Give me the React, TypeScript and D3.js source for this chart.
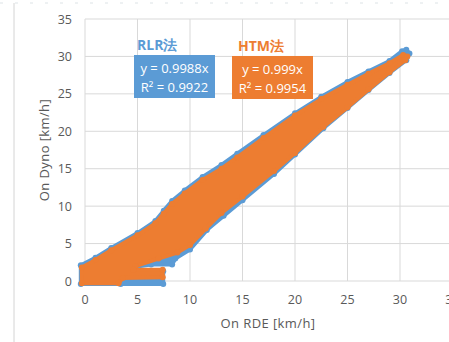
import * as d3 from "d3";

const xTicks = [0, 5, 10, 15, 20, 25, 30, 35];
const yTicks = [0, 5, 10, 15, 20, 25, 30, 35];

// outline of the RLR point cloud (On RDE, On Dyno)
const rlrCloud: [number, number][] = [
  [-0.4, -0.4], [-0.4, 2.1], [1, 3.1], [2.5, 4.4], [5, 6.4], [6.7, 8.0], [7.5, 9.4], [8.3, 10.7],
  [9.5, 12.1], [11.2, 13.9], [13, 15.5], [14.5, 17.0], [17, 19.5], [20, 22.4], [22.5, 24.6],
  [25, 26.6], [27, 28.0], [29, 29.4], [30.2, 30.7], [30.6, 30.9], [30.9, 30.4],
  [30.6, 29.5], [29, 27.8], [27, 25.5], [25, 23.1], [22.7, 20.4], [20, 16.9], [18, 14.3],
  [15, 10.8], [13.2, 8.7], [11.6, 6.8], [10, 4.2], [8.6, 3.0], [8.3, 2.2], [6.3, 2.2],
  [4.8, 1.9], [4.6, 1.3], [7.45, 1.3], [7.45, -0.4], [3.4, -0.4],
];

// outline of the HTM point cloud
const htmCloud: [number, number][] = [
  [-0.3, -0.3], [-0.3, 1.8], [1, 2.8], [2.5, 4.1], [5, 6.1], [6.7, 7.7], [7.5, 9.0], [8.3, 10.3],
  [9.5, 11.7], [11.2, 13.5], [13, 15.0], [14.5, 16.5], [17, 19.1], [20, 22.1], [22.5, 24.3],
  [25, 26.2], [27, 27.7], [29, 29.1], [30.3, 30.2], [30.7, 30.0],
  [30.5, 29.5], [29, 27.9], [27, 25.6], [25, 23.2], [22.7, 20.6], [20, 17.1], [18, 14.7],
  [15, 11.3], [13, 9.1], [11.5, 7.0], [10, 4.8], [8.8, 3.8], [7, 3.0], [4.8, 2.0],
  [4.6, 1.5], [7.4, 1.5], [7.4, 0.5], [3.6, 0.4], [3.2, -0.3],
];

const rlrLabel = ["RLR法", "y = 0.9988x", "R² = 0.9922"];
const htmLabel = ["HTM法", "y = 0.999x", "R² = 0.9954"];

const blue = "#5b9bd5";
const orange = "#ed7d31";
const textGray = "#595959";
const gridGray = "#d9d9d9";
const font = "'Open Sans', sans-serif";

export default function App() {
  const width = 449;
  const height = 342;
  const x = d3.scaleLinear().domain([0, 35]).range([85, 452.5]);
  const y = d3.scaleLinear().domain([0, 35]).range([281, 19]);

  const outline = d3
    .line<[number, number]>()
    .x((d) => x(d[0]))
    .y((d) => y(d[1]))
    .curve(d3.curveLinearClosed);

  const series = [
    { key: "rlr", pts: rlrCloud, color: blue },
    { key: "htm", pts: htmCloud, color: orange },
  ];

  return (
    <svg width={width} height={height} style={{ position: "absolute", left: 0, top: 0, background: "#fff" }} fontFamily={font}>
      {/* sheet frame */}
      <line x1={0} x2={width} y1={3} y2={3} stroke="#dde3e6" strokeDasharray="3 12" />
      <line x1={14} x2={14} y1={3} y2={height} stroke="#d4d4d4" />

      {yTicks.map((t) => (
        <g key={`y-${t}`}>
          <line x1={x(0)} x2={width} y1={y(t)} y2={y(t)} stroke={gridGray} />
          <text x={72} y={y(t)} dy="0.36em" textAnchor="end" fontSize={12.5} fill={textGray}>{t}</text>
        </g>
      ))}
      {xTicks.map((t) => (
        <g key={`x-${t}`}>
          <line x1={x(t)} x2={x(t)} y1={y(35)} y2={y(0)} stroke={gridGray} />
          <text x={x(t)} y={304} textAnchor="middle" fontSize={12.5} fill={textGray}>{t}</text>
        </g>
      ))}

      {series.map((s) => (
        <g key={s.key}>
          <path d={outline(s.pts) ?? ""} fill={s.color} stroke={s.color} strokeWidth={4} strokeLinejoin="round" />
          {s.pts.map((p, i) => (
            <circle key={i} cx={x(p[0])} cy={y(p[1])} r={3} fill={s.color} />
          ))}
        </g>
      ))}

      <text x={268} y={328} textAnchor="middle" fontSize={13} fill={textGray} letterSpacing={0.4}>On RDE [km/h]</text>
      <text transform="translate(49,150) rotate(-90)" textAnchor="middle" fontSize={13} fill={textGray} letterSpacing={0.4}>On Dyno [km/h]</text>

      {/* trend line labels */}
      <text x={137} y={50} fontSize={14} fontWeight="bold" fill={blue}>{rlrLabel[0]}</text>
      <rect x={134} y={55} width={81} height={43} fill={blue} />
      <text x={174.5} y={73} textAnchor="middle" fontSize={13} fill="#fff">{rlrLabel[1]}</text>
      <text x={174.5} y={92} textAnchor="middle" fontSize={13} fill="#fff">{rlrLabel[2]}</text>

      <text x={238} y={51} fontSize={14} fontWeight="bold" fill={orange}>{htmLabel[0]}</text>
      <rect x={232} y={56} width={81} height={43} fill={orange} />
      <text x={272.5} y={74} textAnchor="middle" fontSize={13} fill="#fff">{htmLabel[1]}</text>
      <text x={272.5} y={93} textAnchor="middle" fontSize={13} fill="#fff">{htmLabel[2]}</text>
    </svg>
  );
}
